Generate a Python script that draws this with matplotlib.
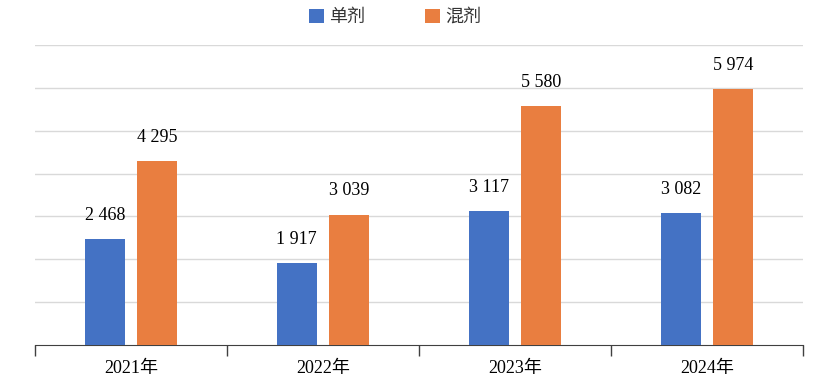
import matplotlib.pyplot as plt
import numpy as np

years = ["2021年", "2022年", "2023年", "2024年"]
single = [2468, 1917, 3117, 3082]
mixed = [4295, 3039, 5580, 5974]
series_names = ["单剂", "混剂"]

fam = ["Liberation Serif", "Noto Sans CJK SC"]
plt.rcParams['font.family'] = fam

fig = plt.figure(figsize=(8.36, 3.82), dpi=100)
ax = fig.add_axes([35 / 836, 37 / 382, 768 / 836, 300 / 382])

x = np.arange(len(years))
w = 0.208
off = 0.137
blue = "#4472c4"
orange = "#e97e40"

b1 = ax.bar(x - off, single, w, color=blue, label=series_names[0], zorder=3)
b2 = ax.bar(x + off, mixed, w, color=orange, label=series_names[1], zorder=3)

fmt = lambda v: f"{v:,}".replace(",", " ")
for bars, vals in [(b1, single), (b2, mixed)]:
    for r, v in zip(bars, vals):
        ax.annotate(fmt(v), (r.get_x() + r.get_width() / 2, v),
                    xytext=(0, 11), textcoords="offset points",
                    ha="center", va="bottom", fontsize=13, family=fam)

ax.set_xlim(-0.5, len(years) - 0.5)
ax.set_ylim(0, 7000)
ax.set_yticks(np.arange(1000, 7001, 1000))
ax.yaxis.grid(True, color="#d9d9d9", linewidth=1, zorder=0)
ax.tick_params(axis="y", left=False, labelleft=False)

ax.set_xticks(x)
ax.set_xticklabels(years, fontsize=13, family=fam)
ax.tick_params(axis="x", which="major", length=0, pad=11)
ax.set_xticks(np.arange(-0.5, len(years), 1), minor=True)
ax.tick_params(axis="x", which="minor", length=8, width=1, color="#404040")

for s in ["top", "right", "left"]:
    ax.spines[s].set_visible(False)
ax.spines["bottom"].set_color("#404040")

leg = fig.legend(loc="center", bbox_to_anchor=(395 / 836, 1 - 17 / 382), ncol=2,
                 frameon=False, handlelength=0.85, handleheight=0.85,
                 handletextpad=0.28, columnspacing=3.3,
                 prop={"family": ["Noto Sans CJK SC"], "size": 13})
for t in leg.get_texts():
    t.set_color("#333333")

fig.savefig("out.png", dpi=100)
